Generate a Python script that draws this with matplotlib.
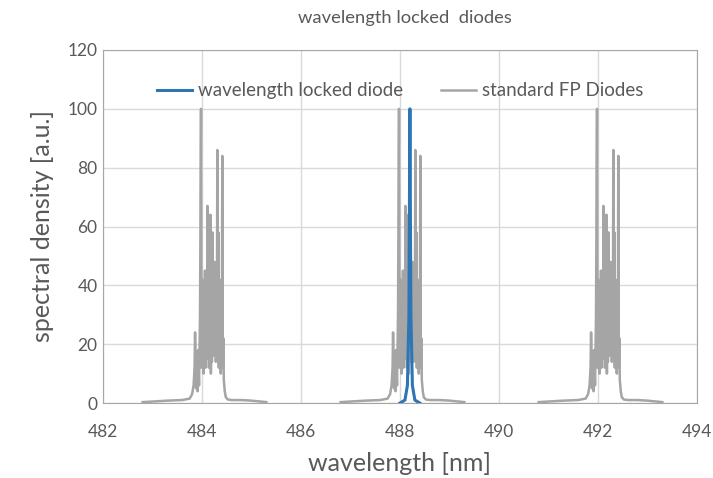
import matplotlib
matplotlib.use("Agg")
import matplotlib.pyplot as plt
import numpy as np

plt.rcParams['font.family'] = ['Lato', 'DejaVu Sans']

# Data: FP diode cluster profile (offsets in nm relative to cluster centre) and heights
fp_offsets = [-1.20, -0.70, -0.40, -0.25, -0.20, -0.17, -0.15, -0.14, -0.12, -0.11, -0.09, -0.08,
              -0.06, -0.04, -0.02, -0.01, 0.00, 0.01, 0.02, 0.03, 0.04, 0.05, 0.06, 0.07,
              0.08, 0.09, 0.10, 0.11, 0.12, 0.13, 0.14, 0.15, 0.16, 0.17, 0.18, 0.19, 0.20,
              0.21, 0.22, 0.23, 0.24, 0.25, 0.26, 0.27, 0.28, 0.29, 0.30, 0.31, 0.32, 0.33,
              0.34, 0.35, 0.36, 0.37, 0.38, 0.39, 0.40, 0.41, 0.42, 0.43, 0.44, 0.46, 0.48,
              0.52, 0.60, 0.80, 1.00, 1.30]
fp_values = [0.3, 0.8, 1.0, 1.5, 3.0, 6.0, 12.0, 24.0, 5.0, 14.0, 4.0, 18.0,
             6.0, 30.0, 100.0, 12.0, 42.0, 15.0, 35.0, 10.0, 28.0, 18.0, 45.0, 12.0,
             40.0, 20.0, 15.0, 67.0, 22.0, 38.0, 12.0, 30.0, 18.0, 64.0, 10.0, 40.0, 14.0,
             58.0, 16.0, 32.0, 20.0, 48.0, 22.0, 40.0, 14.0, 36.0, 25.0, 86.0, 18.0, 58.0,
             12.0, 42.0, 20.0, 30.0, 10.0, 38.0, 14.0, 84.0, 12.0, 22.0, 8.0, 4.0, 2.0,
             1.2, 1.0, 1.0, 0.8, 0.3]
fp_centers = [484.0, 488.0, 492.0]

locked_x = [488.00, 488.10, 488.15, 488.18, 488.20, 488.22, 488.25, 488.30, 488.40]
locked_y = [0.0, 1.0, 6.0, 30.0, 100.0, 30.0, 6.0, 1.0, 0.0]

x_ticks = [482, 484, 486, 488, 490, 492, 494]
y_ticks = [0, 20, 40, 60, 80, 100, 120]

fig = plt.figure(figsize=(7.13, 4.78), dpi=100)
ax = fig.add_axes([103/713, 1-403/478, (697-103)/713, (403-50)/478])

grey = '#A5A5A5'
blue = '#2E75B6'
txt = '#595959'

fp_x, fp_y = [], []
for c in fp_centers:
    fp_x += [c + o for o in fp_offsets] + [np.nan]
    fp_y += fp_values + [np.nan]
ax.plot(fp_x, fp_y, color=grey, lw=1.8, label='standard FP Diodes', zorder=2)
ax.plot(locked_x, locked_y, color=blue, lw=2.2, label='wavelength locked diode', zorder=3)

ax.set_xlim(482, 494)
ax.set_ylim(0, 120)
ax.set_xticks(x_ticks)
ax.set_yticks(y_ticks)
ax.grid(True, color='#D9D9D9', lw=1)
ax.set_axisbelow(True)
for s in ax.spines.values():
    s.set_color('#A6A6A6')
ax.tick_params(length=0, colors=txt, labelsize=12.5)
ax.tick_params(axis='x', pad=15)
ax.tick_params(axis='y', pad=4)

ax.set_xlabel('wavelength [nm]', fontsize=18, color=txt, labelpad=9)
ax.set_ylabel('spectral density [a.u.]', fontsize=18, color=txt, labelpad=10)
fig.text(405/713, 1-18/478, 'wavelength locked  diodes', ha='center', va='center',
         fontsize=13.2, color=txt)

h, l = ax.get_legend_handles_labels()
leg = ax.legend(h[::-1], l[::-1], loc='center', bbox_to_anchor=(0.5, 0.885), ncol=2,
                frameon=False, fontsize=13.5, handlelength=1.9, columnspacing=2.0,
                handletextpad=0.3)
for t in leg.get_texts():
    t.set_color(txt)

fig.savefig('out.png', dpi=100, facecolor='white')
